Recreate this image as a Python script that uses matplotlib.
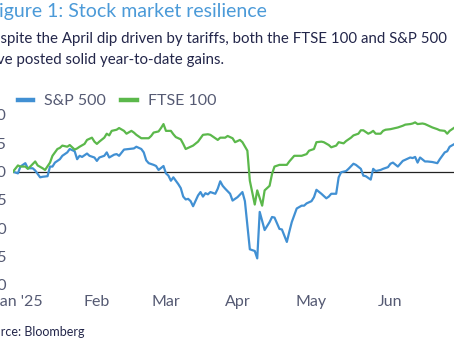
import matplotlib
matplotlib.use("Agg")
import matplotlib.pyplot as plt
import pandas as pd

plt.rcParams["font.family"] = ["Lato", "DejaVu Sans"]

# S&P 500 rebased to 100 at end-2024
spx_dates = [
    "2024-12-31", "2025-01-02", "2025-01-03", "2025-01-05", "2025-01-06", "2025-01-08",
    "2025-01-09", "2025-01-11", "2025-01-12", "2025-01-14", "2025-01-15", "2025-01-16",
    "2025-01-17", "2025-01-19", "2025-01-20", "2025-01-22", "2025-01-23", "2025-01-25",
    "2025-01-26", "2025-01-27", "2025-01-28", "2025-01-30", "2025-01-31", "2025-02-02",
    "2025-02-03", "2025-02-04", "2025-02-06", "2025-02-07", "2025-02-08", "2025-02-10",
    "2025-02-11", "2025-02-12", "2025-02-14", "2025-02-16", "2025-02-18", "2025-02-19",
    "2025-02-21", "2025-02-22", "2025-02-23", "2025-02-24", "2025-02-26", "2025-02-27",
    "2025-02-28", "2025-03-02", "2025-03-03", "2025-03-04", "2025-03-05", "2025-03-06",
    "2025-03-08", "2025-03-09", "2025-03-10", "2025-03-11", "2025-03-12", "2025-03-13",
    "2025-03-14", "2025-03-16", "2025-03-17", "2025-03-18", "2025-03-19", "2025-03-20",
    "2025-03-21", "2025-03-23", "2025-03-24", "2025-03-25", "2025-03-26", "2025-03-27",
    "2025-03-29", "2025-03-30", "2025-04-01", "2025-04-03", "2025-04-04", "2025-04-06",
    "2025-04-08", "2025-04-09", "2025-04-10", "2025-04-12", "2025-04-14", "2025-04-15",
    "2025-04-16", "2025-04-18", "2025-04-19", "2025-04-21", "2025-04-22", "2025-04-23",
    "2025-04-25", "2025-04-27", "2025-04-28", "2025-04-29", "2025-05-01", "2025-05-02",
    "2025-05-03", "2025-05-05", "2025-05-07", "2025-05-08", "2025-05-09", "2025-05-11",
    "2025-05-12", "2025-05-13", "2025-05-15", "2025-05-16", "2025-05-18", "2025-05-19",
    "2025-05-21", "2025-05-22", "2025-05-23", "2025-05-25", "2025-05-26", "2025-05-27",
    "2025-05-29", "2025-05-30", "2025-06-01", "2025-06-02", "2025-06-03", "2025-06-05",
    "2025-06-07", "2025-06-08", "2025-06-10", "2025-06-11", "2025-06-12", "2025-06-13",
    "2025-06-14", "2025-06-16", "2025-06-17", "2025-06-19", "2025-06-21", "2025-06-22",
    "2025-06-24", "2025-06-25", "2025-06-26", "2025-06-28",
]
spx = [
    100.0, 99.7, 100.9, 101.5, 100.6, 100.6,
    100.2, 99.0, 99.1, 99.2, 100.9, 100.9,
    101.6, 102.2, 102.8, 103.4, 104.0, 103.6,
    102.2, 102.8, 102.6, 103.2, 102.8, 102.5,
    101.9, 102.5, 102.8, 103.4, 102.5, 103.0,
    103.1, 102.8, 103.9, 104.0, 104.1, 104.4,
    104.0, 103.4, 102.0, 101.5, 101.2, 101.0,
    100.3, 101.0, 99.7, 99.3, 98.4, 99.0,
    97.8, 97.1, 95.6, 95.1, 95.2, 94.8,
    93.9, 95.8, 96.4, 95.6, 96.2, 96.0,
    96.4, 96.1, 97.0, 98.3, 97.5, 97.0,
    96.1, 94.9, 95.5, 96.4, 94.8, 86.3,
    86.0, 84.7, 92.9, 89.7, 91.1, 92.0,
    91.9, 89.9, 89.8, 87.6, 89.4, 91.1,
    93.5, 94.0, 94.0, 94.4, 94.8, 95.5,
    96.8, 96.1, 95.3, 95.6, 96.1, 96.1,
    99.0, 99.9, 100.1, 100.5, 101.4, 101.2,
    100.5, 99.3, 99.2, 98.6, 100.5, 100.1,
    100.3, 100.5, 100.8, 101.4, 101.6, 100.9,
    101.9, 102.1, 102.5, 102.4, 102.6, 101.6,
    102.5, 101.8, 101.8, 101.7, 101.5, 102.2,
    103.4, 103.6, 104.4, 104.9,
]

# FTSE 100 rebased to 100 at end-2024
ftse_dates = [
    "2024-12-31", "2025-01-02", "2025-01-03", "2025-01-05", "2025-01-06", "2025-01-07",
    "2025-01-09", "2025-01-10", "2025-01-12", "2025-01-13", "2025-01-15", "2025-01-16",
    "2025-01-18", "2025-01-19", "2025-01-20", "2025-01-22", "2025-01-23", "2025-01-25",
    "2025-01-26", "2025-01-27", "2025-01-29", "2025-01-30", "2025-02-01", "2025-02-02",
    "2025-02-03", "2025-02-04", "2025-02-06", "2025-02-07", "2025-02-08", "2025-02-09",
    "2025-02-11", "2025-02-12", "2025-02-14", "2025-02-15", "2025-02-17", "2025-02-18",
    "2025-02-19", "2025-02-21", "2025-02-22", "2025-02-24", "2025-02-25", "2025-02-26",
    "2025-02-28", "2025-03-01", "2025-03-02", "2025-03-03", "2025-03-05", "2025-03-06",
    "2025-03-07", "2025-03-09", "2025-03-10", "2025-03-11", "2025-03-13", "2025-03-14",
    "2025-03-16", "2025-03-17", "2025-03-18", "2025-03-20", "2025-03-21", "2025-03-23",
    "2025-03-24", "2025-03-25", "2025-03-27", "2025-03-28", "2025-03-30", "2025-03-31",
    "2025-04-02", "2025-04-03", "2025-04-05", "2025-04-06", "2025-04-08", "2025-04-09",
    "2025-04-11", "2025-04-12", "2025-04-14", "2025-04-15", "2025-04-16", "2025-04-18",
    "2025-04-20", "2025-04-21", "2025-04-22", "2025-04-24", "2025-04-26", "2025-04-27",
    "2025-04-29", "2025-04-30", "2025-05-02", "2025-05-03", "2025-05-05", "2025-05-06",
    "2025-05-08", "2025-05-09", "2025-05-11", "2025-05-12", "2025-05-14", "2025-05-15",
    "2025-05-17", "2025-05-18", "2025-05-20", "2025-05-21", "2025-05-22", "2025-05-24",
    "2025-05-25", "2025-05-26", "2025-05-27", "2025-05-29", "2025-05-30", "2025-05-31",
    "2025-06-02", "2025-06-03", "2025-06-05", "2025-06-07", "2025-06-08", "2025-06-10",
    "2025-06-11", "2025-06-12", "2025-06-13", "2025-06-15", "2025-06-16", "2025-06-17",
    "2025-06-19", "2025-06-21", "2025-06-22", "2025-06-24", "2025-06-25", "2025-06-26",
    "2025-06-28",
]
ftse = [
    100.0, 101.1, 100.9, 100.9, 100.5, 100.9,
    101.8, 101.1, 100.6, 100.3, 101.6, 102.8,
    104.0, 104.2, 104.6, 104.4, 104.7, 103.9,
    104.1, 104.4, 104.9, 105.6, 106.0, 105.3,
    104.9, 105.3, 106.0, 106.7, 106.4, 107.2,
    107.4, 107.7, 107.2, 106.7, 107.2, 106.9,
    106.5, 105.9, 105.9, 105.9, 106.3, 106.9,
    107.1, 107.7, 108.4, 107.2, 107.2, 106.6,
    106.1, 105.7, 104.9, 104.0, 104.4, 104.6,
    105.3, 105.9, 106.5, 106.6, 106.5, 105.9,
    105.6, 106.0, 106.0, 106.3, 105.9, 105.2,
    105.6, 105.2, 103.7, 98.4, 94.2, 96.7,
    94.0, 96.7, 97.5, 99.6, 100.9, 101.2,
    101.2, 101.2, 101.8, 102.8, 102.8, 102.8,
    103.1, 103.7, 104.0, 105.2, 105.3, 105.2,
    104.7, 104.3, 104.6, 105.2, 105.0, 105.4,
    106.0, 106.4, 106.7, 107.3, 107.3, 106.7,
    106.9, 107.2, 106.7, 106.7, 107.2, 107.4,
    107.5, 107.6, 107.8, 108.1, 108.3, 108.4,
    108.5, 108.7, 108.4, 108.5, 108.4, 108.2,
    107.8, 107.5, 107.3, 107.2, 106.7, 107.2,
    107.8,
]

month_ticks = ["2025-01-02", "2025-02-03", "2025-03-03", "2025-04-01", "2025-05-01", "2025-06-02"]
month_labels = ["Jan '25", "Feb", "Mar", "Apr", "May", "Jun"]
y_ticks = [80, 85, 90, 95, 100, 105, 110]

BLUE = "#4190d3"
GREEN = "#5bb84b"
NAVY = "#23264a"
GREY = "#555a73"

W, H = 454, 341
fig = plt.figure(figsize=(W / 100, H / 100), dpi=100)
fig.patch.set_facecolor("white")

# plot area runs a little past the right edge of the canvas
ax = fig.add_axes([13 / W, (H - 285) / H, 449 / W, 170 / H])

ax.plot(pd.to_datetime(spx_dates), spx, color=BLUE, lw=1.6, label="S&P 500", zorder=3)
ax.plot(pd.to_datetime(ftse_dates), ftse, color=GREEN, lw=1.6, label="FTSE 100", zorder=3)
ax.axhline(100, color="#222222", lw=0.9, zorder=2)

ax.set_xlim(pd.Timestamp("2024-12-31"), pd.Timestamp("2025-07-01"))
ax.set_ylim(80, 110)
ax.set_xticks(pd.to_datetime(month_ticks))
ax.set_xticklabels(month_labels)
ax.set_yticks(y_ticks)
ax.tick_params(axis="both", length=0, labelsize=11.5, labelcolor=GREY)
ax.tick_params(axis="y", pad=4.5)
ax.tick_params(axis="x", pad=7)
for s in ax.spines.values():
    s.set_visible(False)
ax.set_facecolor("none")

leg = fig.legend(
    handles=ax.get_lines()[:2],
    loc="center left",
    bbox_to_anchor=(18 / W, 1 - 101 / H),
    ncol=2,
    frameon=False,
    fontsize=11.5,
    handlelength=0.95,
    handletextpad=0.7,
    columnspacing=0.95,
    borderpad=0,
    borderaxespad=0,
)
for t in leg.get_texts():
    t.set_color(GREY)
for h in leg.legend_handles:
    h.set_linewidth(3.2)

fig.text(-12 / W, 1 - 12 / H, "Figure 1: Stock market resilience",
         fontsize=14, color="#4b9ad8", ha="left", va="center")
fig.text(-19 / W, 1 - 39 / H,
         "Despite the April dip driven by tariffs, both the FTSE 100 and S&P 500",
         fontsize=10.8, color=NAVY, ha="left", va="center")
fig.text(-19 / W, 1 - 60 / H, "have posted solid year-to-date gains.",
         fontsize=10.8, color=NAVY, ha="left", va="center")
fig.text(-20 / W, 1 - 332 / H, "Source: Bloomberg",
         fontsize=9, color=NAVY, ha="left", va="center")

fig.savefig("out.png", dpi=100)
